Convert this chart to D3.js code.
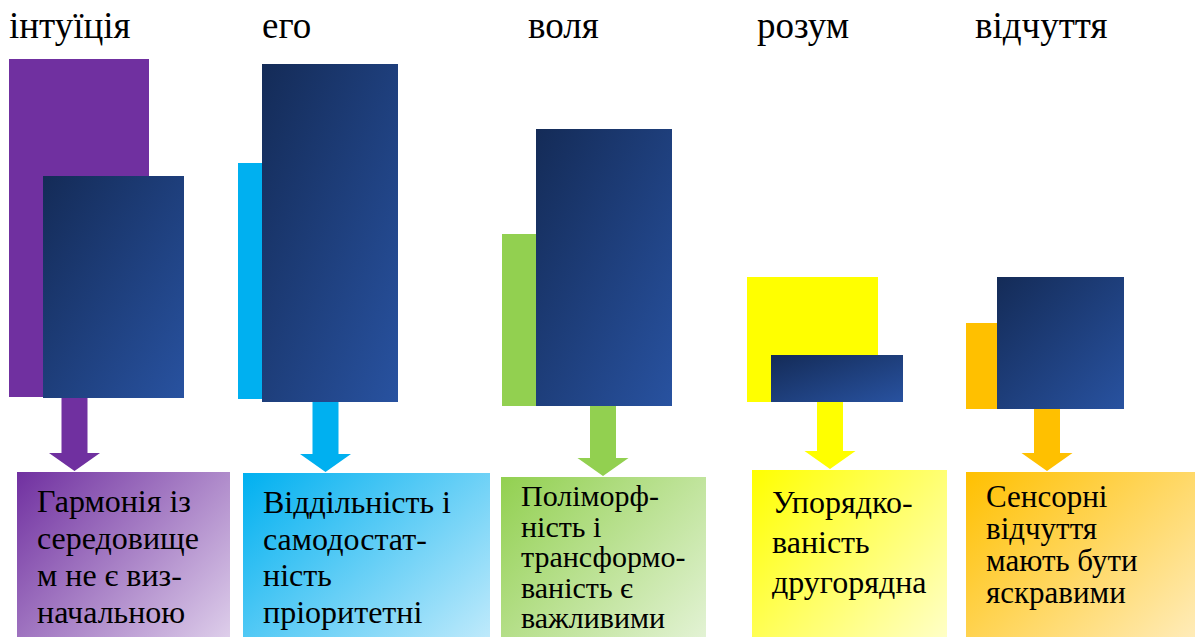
<html lang="en">
<head>
<meta charset="utf-8">
<script src="https://cdn.jsdelivr.net/npm/d3@7"></script>
</head>
<body style="margin:0">
<script>
// Categories (column titles)
const categories = ["інтуїція", "его", "воля", "розум", "відчуття"];

// Back (coloured) bar: base and top values
const backBase = [13, 11, 4, 8, 1];
const backTop = [351, 247, 176, 133, 87];

// Front (navy) bar: base and top values
const frontBase = [12, 8, 4, 8, 1];
const frontTop = [234, 346, 281, 55, 133];

// Text in the boxes under the arrows
const descriptions = [
  ["Гармонія із", "середовище", "м не є виз-", "начальною"],
  ["Віддільність і", "самодостат-", "ність", "пріоритетні"],
  ["Поліморф-", "ність і", "трансформо-", "ваність є", "важливими"],
  ["Упорядко-", "ваність", "другорядна"],
  ["Сенсорні", "відчуття", "мають бути", "яскравими"]
];

// Colours
const colors = ["#7030A0", "#00B0F0", "#92D050", "#FFFF00", "#FFC000"];
const tints = ["#EFE7F6", "#DDF3FD", "#F0F8EA", "#FFFFE6", "#FFF4DC"];

// Layout of each column (hand placed in the original slide)
const layout = [
  { left: 9,   backW: 140, frontDx: 34, frontW: 141, arrowX: 65.5, boxDx: 8,  boxW: 213, boxTop: 472, titleDx: 0,  font: 32, lineH: 37,   firstLine: 512 },
  { left: 238, backW: 80,  frontDx: 24, frontW: 136, arrowX: 87.5, boxDx: 5,  boxW: 247, boxTop: 473, titleDx: 24, font: 32, lineH: 36.5, firstLine: 513 },
  { left: 502, backW: 80,  frontDx: 34, frontW: 136, arrowX: 101,  boxDx: -1, boxW: 205, boxTop: 477, titleDx: 26, font: 30, lineH: 30.5, firstLine: 506 },
  { left: 747, backW: 131, frontDx: 24, frontW: 132, arrowX: 83,   boxDx: 5,  boxW: 195, boxTop: 470, titleDx: 10, font: 32, lineH: 40,   firstLine: 513 },
  { left: 966, backW: 80,  frontDx: 31, frontW: 127, arrowX: 81,   boxDx: 0,  boxW: 240, boxTop: 472, titleDx: 9,  font: 31, lineH: 32,   firstLine: 507 }
];

const serif = '"Liberation Serif", "Times New Roman", Tinos';
const width = 1195, height = 637;

const svg = d3.select("body").append("svg")
  .attr("width", width)
  .attr("height", height)
  .style("display", "block");

const y = d3.scaleLinear().domain([0, 350]).range([410, 60]);

const defs = svg.append("defs");

// navy gradient for front bars
const navy = defs.append("linearGradient")
  .attr("id", "navy")
  .attr("x1", 0).attr("y1", 0).attr("x2", 1).attr("y2", 1);
navy.append("stop").attr("offset", "0%").attr("stop-color", "#142B57");
navy.append("stop").attr("offset", "100%").attr("stop-color", "#2852A0");

// box gradients
colors.forEach((c, i) => {
  const g = defs.append("linearGradient")
    .attr("id", "box" + i)
    .attr("x1", 0).attr("y1", 0).attr("x2", 1).attr("y2", 1);
  g.append("stop").attr("offset", "0%").attr("stop-color", c);
  g.append("stop").attr("offset", "100%").attr("stop-color", tints[i]);
});

const groups = svg.selectAll("g.col")
  .data(categories)
  .join("g")
  .attr("class", "col")
  .attr("transform", (d, i) => `translate(${layout[i].left},0)`);

// back bars
groups.append("rect")
  .attr("x", 0)
  .attr("y", (d, i) => y(backTop[i]))
  .attr("width", (d, i) => layout[i].backW)
  .attr("height", (d, i) => y(backBase[i]) - y(backTop[i]))
  .attr("fill", (d, i) => colors[i]);

// front bars
groups.append("rect")
  .attr("x", (d, i) => layout[i].frontDx)
  .attr("y", (d, i) => y(frontTop[i]))
  .attr("width", (d, i) => layout[i].frontW)
  .attr("height", (d, i) => y(frontBase[i]) - y(frontTop[i]))
  .attr("fill", "url(#navy)");

// arrows
groups.append("path")
  .attr("fill", (d, i) => colors[i])
  .attr("d", (d, i) => {
    const L = layout[i];
    const cx = L.arrowX, top = y(frontBase[i]);
    const tip = L.boxTop - 1, headTop = tip - 18;
    return `M${cx - 13},${top} L${cx + 13},${top} L${cx + 13},${headTop} L${cx + 25.5},${headTop}
            L${cx},${tip} L${cx - 25.5},${headTop} L${cx - 13},${headTop} Z`;
  });

// boxes
groups.append("rect")
  .attr("x", (d, i) => layout[i].boxDx)
  .attr("y", (d, i) => layout[i].boxTop)
  .attr("width", (d, i) => layout[i].boxW)
  .attr("height", (d, i) => 700 - layout[i].boxTop)
  .attr("fill", (d, i) => `url(#box${i})`);

// titles
svg.selectAll("text.title")
  .data(categories)
  .join("text")
  .attr("class", "title")
  .attr("x", (d, i) => layout[i].left + layout[i].titleDx)
  .attr("y", 38)
  .style("font-family", serif)
  .attr("font-size", 37)
  .attr("fill", "#000")
  .text(d => d);

// box text, one text element per line
const lines = descriptions.flatMap((ls, i) => ls.map((t, k) => ({ t, i, k })));
svg.selectAll("text.line")
  .data(lines)
  .join("text")
  .attr("class", "line")
  .attr("x", d => layout[d.i].left + layout[d.i].boxDx + 20)
  .attr("y", d => layout[d.i].firstLine + d.k * layout[d.i].lineH)
  .style("font-family", serif)
  .attr("font-size", d => layout[d.i].font)
  .attr("fill", "#000")
  .text(d => d.t);
</script>
</body>
</html>
